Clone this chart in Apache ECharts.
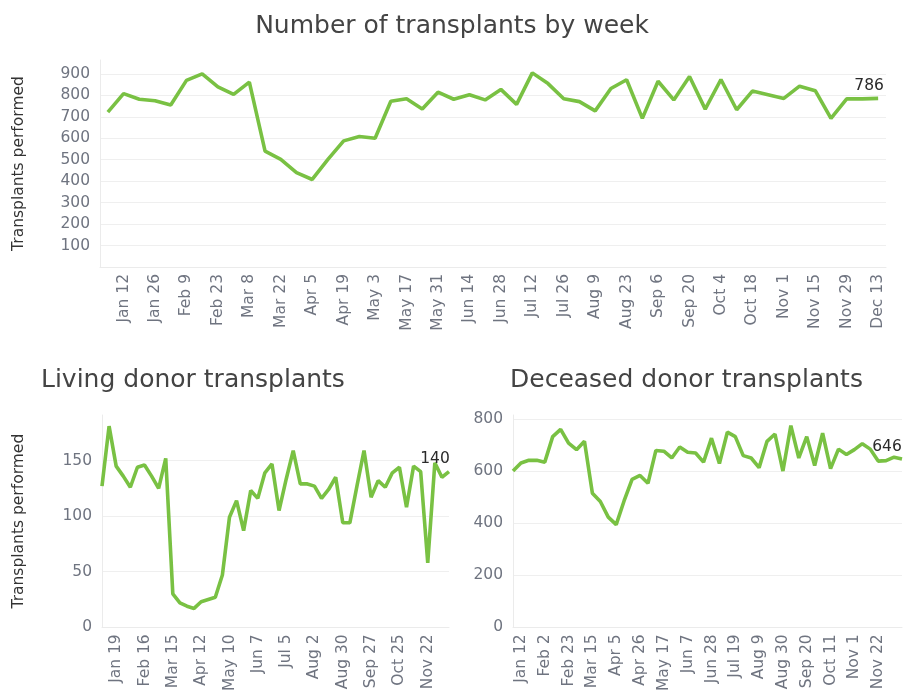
<!DOCTYPE html>
<html>
<head>
<meta charset="utf-8">
<script src="https://cdn.jsdelivr.net/npm/echarts@6/dist/echarts.min.js"></script>
<style>
html,body{margin:0;padding:0;background:#fff;}
#c{width:904px;height:694px;}
</style>
</head>
<body>
<div id="c"></div>
<script>
// Week start dates (Sundays), 2020
var weeks = ['Jan 5','Jan 12','Jan 19','Jan 26','Feb 2','Feb 9','Feb 16','Feb 23','Mar 1','Mar 8','Mar 15','Mar 22','Mar 29','Apr 5','Apr 12','Apr 19','Apr 26','May 3','May 10','May 17','May 24','May 31','Jun 7','Jun 14','Jun 21','Jun 28','Jul 5','Jul 12','Jul 19','Jul 26','Aug 2','Aug 9','Aug 16','Aug 23','Aug 30','Sep 6','Sep 13','Sep 20','Sep 27','Oct 4','Oct 11','Oct 18','Oct 25','Nov 1','Nov 8','Nov 15','Nov 22','Nov 29','Dec 6','Dec 13'];

var totalTransplants = [722,808,782,775,755,870,900,840,805,862,540,502,440,408,502,588,608,600,773,784,737,815,782,803,779,828,758,905,855,784,771,728,832,873,693,866,779,888,736,874,733,820,803,786,843,822,693,784,784,786];

var livingTransplants = [127,181,145,136,126,144,146,136,125,152,30,22,19,17,23,25,27,47,99,114,87,123,116,139,147,105,133,159,129,129,127,116,124,135,94,94,127,159,117,132,126,139,144,108,145,140,58,148,135,140];

var deceasedTransplants = [600,631,641,641,634,732,760,707,682,714,515,483,423,394,486,568,583,553,679,676,650,692,672,669,634,726,629,749,732,659,650,613,714,742,600,774,650,732,621,745,609,684,663,682,705,684,638,640,653,646];

var totalTicks = {min: 0, max: 965, interval: 100};
var livingTicks = {min: 0, max: 191, interval: 50};
var deceasedTicks = {min: 0, max: 815, interval: 200};

var GREEN = '#79c143';
var TICK = '#6f7480';
var FONT = 'DejaVu Sans';

function xAxis(gridIndex, boundaryGap, intervalFn) {
  return {
    type: 'category', gridIndex: gridIndex, data: weeks, boundaryGap: boundaryGap,
    axisLine: {show: true, lineStyle: {color: '#ebebeb', width: 1}},
    axisTick: {show: false},
    splitLine: {show: false},
    axisLabel: {rotate: 90, interval: intervalFn, color: TICK, fontSize: 15.5, fontFamily: FONT, margin: 7}
  };
}

function yAxis(gridIndex, t, hideZero, name, gap) {
  return {
    type: 'value', gridIndex: gridIndex, min: t.min, max: t.max, interval: t.interval,
    name: name || '', nameLocation: 'middle', nameGap: gap || 0, nameRotate: 90,
    nameTextStyle: {color: '#333', fontSize: 15.5, fontFamily: FONT},
    axisLine: {show: true, lineStyle: {color: '#ebebeb', width: 1}},
    axisTick: {show: false},
    splitLine: {show: true, showMaxLine: false, showMinLine: false, lineStyle: {color: '#efefef', width: 1}},
    axisLabel: {
      color: TICK, fontSize: 15.5, fontFamily: FONT, margin: 10, showMaxLabel: false,
      formatter: function (v) {
        if (v % t.interval !== 0) return '';
        if (hideZero && v === 0) return '';
        return String(v);
      }
    }
  };
}

function lineSeries(idx, arr, offset) {
  var last = arr.length - 1;
  return {
    type: 'line', xAxisIndex: idx, yAxisIndex: idx, data: arr,
    showSymbol: false, symbol: 'none',
    lineStyle: {color: GREEN, width: 3.6}, itemStyle: {color: GREEN},
    markPoint: {
      symbol: 'circle', symbolSize: 1, silent: true,
      itemStyle: {color: 'rgba(0,0,0,0)'},
      label: {show: true, position: 'top', distance: 4, offset: offset, color: '#2a2a2a',
              fontSize: 15.5, fontFamily: FONT, formatter: function (p) { return String(p.value); }},
      data: [{coord: [last, arr[last]], value: arr[last]}]
    }
  };
}

var chart = echarts.init(document.getElementById('c'), null, {renderer: 'canvas'});
chart.setOption({
  backgroundColor: '#ffffff',
  animation: false,
  title: [
    {text: 'Number of transplants by week', left: 447, top: 9, textAlign: 'center',
     textStyle: {fontFamily: FONT, fontSize: 25, fontWeight: 'normal', color: '#444'}},
    {text: 'Living donor transplants', left: 36, top: 363,
     textStyle: {fontFamily: FONT, fontSize: 25, fontWeight: 'normal', color: '#444'}},
    {text: 'Deceased donor transplants', left: 505, top: 363,
     textStyle: {fontFamily: FONT, fontSize: 25, fontWeight: 'normal', color: '#444'}}
  ],
  grid: [
    {left: 100, top: 60, width: 786, height: 207},
    {left: 102, top: 415, width: 347, height: 214},
    {left: 513, top: 415, width: 389, height: 214}
  ],
  xAxis: [
    xAxis(0, true, function (i) { return i % 2 === 1; }),
    xAxis(1, false, function (i) { return i % 4 === 2; }),
    xAxis(2, false, function (i) { return i % 3 === 1 && i < 49; })
  ],
  yAxis: [
    yAxis(0, totalTicks, true, 'Transplants performed', 73),
    yAxis(1, livingTicks, false, 'Transplants performed', 75),
    yAxis(2, deceasedTicks, false, '', 0)
  ],
  series: [
    lineSeries(0, totalTransplants, [-9, 0]),
    lineSeries(1, livingTransplants, [-14, 0]),
    lineSeries(2, deceasedTransplants, [-15, 0])
  ]
});
</script>
</body>
</html>
